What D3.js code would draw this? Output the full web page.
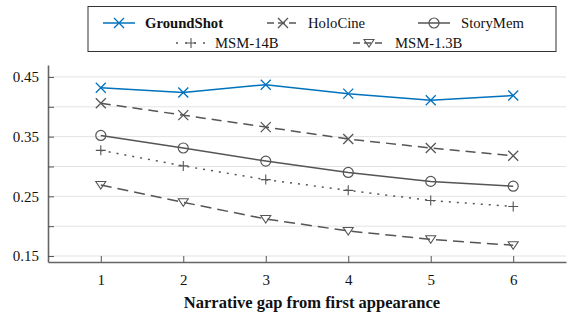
<!DOCTYPE html>
<html>
<head>
<meta charset="utf-8">
<script src="https://cdn.jsdelivr.net/npm/d3@7"></script>
<style>
body { margin: 0; background: #fff; }
svg { display: block; font-family: "Liberation Serif", "DejaVu Serif", serif; }
</style>
</head>
<body>
<svg id="chart" width="572" height="315"></svg>
<script>
// data
var gaps = [1, 2, 3, 4, 5, 6]
var groundShot = [0.432, 0.424, 0.437, 0.422, 0.411, 0.419]
var holoCine = [0.406, 0.386, 0.366, 0.346, 0.331, 0.318]
var storyMem = [0.352, 0.331, 0.309, 0.290, 0.275, 0.267]
var msm14 = [0.327, 0.301, 0.278, 0.260, 0.243, 0.233]
var msm13 = [0.269, 0.240, 0.212, 0.192, 0.178, 0.168]
var yTicks = [0.15, 0.20, 0.25, 0.30, 0.35, 0.40, 0.45]
var yLabels = [0.15, 0.25, 0.35, 0.45]

var series = [
	{ name: "GroundShot", values: groundShot, color: "#0072BD", dash: null, marker: "x", bold: true },
	{ name: "HoloCine", values: holoCine, color: "#555555", dash: "10,6", marker: "x" },
	{ name: "StoryMem", values: storyMem, color: "#555555", dash: null, marker: "o" },
	{ name: "MSM-14B", values: msm14, color: "#555555", dash: "2,6", marker: "+" },
	{ name: "MSM-1.3B", values: msm13, color: "#555555", dash: "11,6", marker: "v" }
]

var svg = d3.select("#chart")
var plotLeft = 48, plotRight = 566, plotTop = 65, plotBottom = 262

var x = d3.scaleLinear().domain([0.36, 6.64]).range([plotLeft, plotRight])
var y = d3.scaleLinear().domain([0.14, 0.47]).range([plotBottom, plotTop])

// grid
svg.append("g").selectAll("line").data(yTicks).enter().append("line")
	.attr("x1", plotLeft).attr("x2", plotRight)
	.attr("y1", d => y(d)).attr("y2", d => y(d))
	.style("stroke", "#e3e3e3").style("stroke-width", 1)

// axes
var yAxis = svg.append("g").attr("transform", "translate(" + plotLeft + ",0)")
	.call(d3.axisLeft(y).tickValues(yTicks).tickSizeInner(-6).tickSizeOuter(0)
		.tickFormat(d => yLabels.some(v => Math.abs(v - d) < 1e-9) ? d3.format(".2f")(d) : ""))
var xAxis = svg.append("g").attr("transform", "translate(0," + plotBottom + ")")
	.call(d3.axisBottom(x).tickValues(gaps).tickSizeInner(-6).tickSizeOuter(0).tickFormat(d3.format("d")))
;[yAxis, xAxis].forEach(a => {
	a.select(".domain").style("stroke", "#666").style("stroke-width", 1.6)
	a.selectAll(".tick line").style("stroke", "#555").style("stroke-width", 1)
	a.selectAll("text").style("font-family", "Liberation Serif").style("font-size", "15px").style("fill", "#111")
})
yAxis.selectAll("text").attr("x", -9)
xAxis.selectAll("text").attr("y", 12)

svg.append("text")
	.attr("x", 312).attr("y", 308)
	.attr("text-anchor", "middle")
	.style("font-size", "16.5px").style("font-weight", "bold").style("fill", "#111")
	.text("Narrative gap from first appearance")

var drawMarker = (g, type, cx, cy, color) => {
	var s = 5
	if (type === "x") {
		g.append("path").attr("d", "M" + (cx - s) + "," + (cy - s) + "L" + (cx + s) + "," + (cy + s) + "M" + (cx - s) + "," + (cy + s) + "L" + (cx + s) + "," + (cy - s))
			.style("stroke", color).style("stroke-width", 1.3).style("fill", "none")
	} else if (type === "+") {
		g.append("path").attr("d", "M" + (cx - s) + "," + cy + "L" + (cx + s) + "," + cy + "M" + cx + "," + (cy - s) + "L" + cx + "," + (cy + s))
			.style("stroke", color).style("stroke-width", 1.1).style("fill", "none")
	} else if (type === "o") {
		g.append("circle").attr("cx", cx).attr("cy", cy).attr("r", 5)
			.style("stroke", color).style("stroke-width", 1.2).style("fill", "none")
	} else if (type === "v") {
		g.append("path").attr("d", "M" + (cx - s) + "," + (cy - 3.5) + "L" + (cx + s) + "," + (cy - 3.5) + "L" + cx + "," + (cy + 4) + "Z")
			.style("stroke", color).style("stroke-width", 1.1).style("fill", "none")
	}
}

var line = d3.line().x(d => x(d[0])).y(d => y(d[1]))
var plot = svg.append("g")
series.slice().reverse().forEach(s => {
	var pts = gaps.map((g, i) => [g, s.values[i]])
	plot.append("path").datum(pts)
		.attr("d", line)
		.style("fill", "none").style("stroke", s.color).style("stroke-width", 1.5)
		.style("stroke-dasharray", s.dash)
	pts.forEach(p => drawMarker(plot, s.marker, x(p[0]), y(p[1]), s.color))
})

// legend
var legend = svg.append("g")
legend.append("rect").attr("x", 88).attr("y", 6.5).attr("width", 468).attr("height", 45)
	.style("fill", "#fff").style("stroke", "#333").style("stroke-width", 1)
var legendPos = [
	{ lx: 103, ty: 23, tx: 145 },
	{ lx: 267, ty: 23, tx: 308 },
	{ lx: 418, ty: 23, tx: 461 },
	{ lx: 175, ty: 43, tx: 215 },
	{ lx: 353, ty: 43, tx: 395 }
]
series.forEach((s, i) => {
	var p = legendPos[i]
	legend.append("line").attr("x1", p.lx).attr("x2", p.lx + 32).attr("y1", p.ty).attr("y2", p.ty)
		.style("stroke", s.color).style("stroke-width", 1.5).style("stroke-dasharray", s.dash === "2,6" ? "2,7" : (s.dash ? "7,4" : null))
		.style("stroke-dashoffset", s.dash === "2,6" ? -1 : 0)
	drawMarker(legend, s.marker, p.lx + 16, p.ty, s.color)
	legend.append("text").attr("x", p.tx).attr("y", p.ty).attr("dy", "0.35em")
		.style("font-size", "14.7px").style("fill", "#111")
		.style("font-weight", s.bold ? "bold" : "normal")
		.text(s.name)
})
</script>
</body>
</html>
